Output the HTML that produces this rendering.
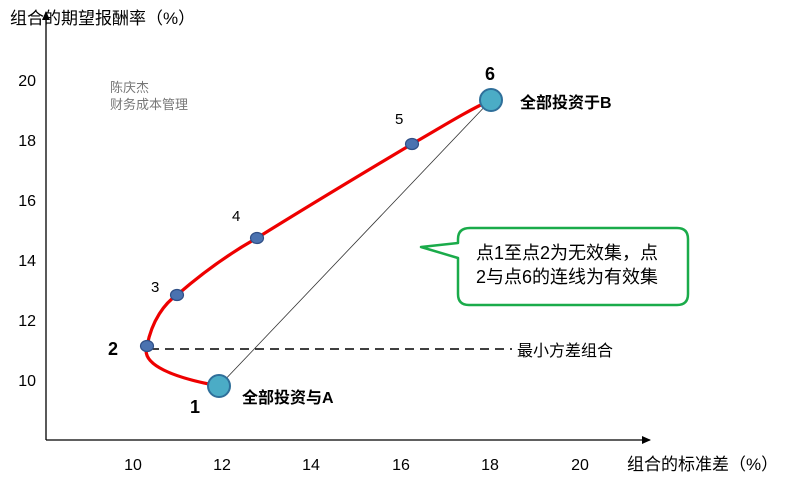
<!DOCTYPE html><html><head><meta charset="utf-8"><style>body{margin:0;background:#fff}svg{display:block}text{font-family:"Liberation Sans","Noto Sans CJK SC",sans-serif}</style></head><body>
<svg width="796" height="493" viewBox="0 0 796 493">
<defs><marker id="ar" markerWidth="10" markerHeight="10" refX="8" refY="5" orient="auto" markerUnits="userSpaceOnUse"><path d="M0,1 L9,5 L0,9 Z" fill="#000"/></marker></defs>
<line x1="46" y1="440" x2="46" y2="12" stroke="#000" stroke-width="1.3" marker-end="url(#ar)"/>
<line x1="46" y1="440" x2="650" y2="440" stroke="#000" stroke-width="1.3" marker-end="url(#ar)"/>
<g font-size="16" fill="#000" text-anchor="end">
<text x="36" y="86">20</text><text x="36" y="146">18</text><text x="36" y="206">16</text><text x="36" y="266">14</text><text x="36" y="326">12</text><text x="36" y="386">10</text></g>
<g font-size="16" fill="#000" text-anchor="middle">
<text x="133" y="470">10</text><text x="222" y="470">12</text><text x="311" y="470">14</text><text x="401" y="470">16</text><text x="490" y="470">18</text><text x="580" y="470">20</text></g>
<text x="10" y="24" font-size="17">组合的期望报酬率（%）</text>
<text x="627" y="470" font-size="17">组合的标准差（%）</text>
<text x="110" y="92" font-size="13" fill="#777">陈庆杰</text>
<text x="110" y="109" font-size="13" fill="#777">财务成本管理</text>
<line x1="219" y1="386" x2="491" y2="100" stroke="#333" stroke-width="0.8"/>
<line x1="150" y1="349" x2="512" y2="349" stroke="#000" stroke-width="1.5" stroke-dasharray="9,6"/>
<path d="M219,386 C175,378 140,365 147,346 C152,320 165,303 177,295 C200,275 225,256 257,238 C310,205 360,175 412,144 C440,128 465,112 491,100" fill="none" stroke="#e00" stroke-width="3.2"/>
<g fill="#4a72b0" stroke="#2f4f86" stroke-width="1.2">
<ellipse cx="147" cy="346" rx="6.5" ry="5.5"/><ellipse cx="177" cy="295" rx="6.5" ry="5.5"/><ellipse cx="257" cy="238" rx="6.5" ry="5.5"/><ellipse cx="412" cy="144" rx="6.5" ry="5.5"/></g>
<g fill="#4bacc6" stroke="#2f6f9a" stroke-width="2">
<circle cx="219" cy="386" r="11"/><circle cx="491" cy="100" r="11"/></g>
<g font-size="15" fill="#000"><text x="151" y="292">3</text><text x="232" y="221">4</text><text x="395" y="124">5</text></g>
<g font-size="18" font-weight="bold" fill="#000"><text x="108" y="355">2</text><text x="190" y="413">1</text><text x="485" y="80">6</text></g>
<g font-size="16" font-weight="bold" fill="#000"><text x="242" y="403">全部投资与A</text><text x="520" y="108">全部投资于B</text></g>
<text x="517" y="356" font-size="16" fill="#000">最小方差组合</text>
<path d="M470,228 H677 Q688,228 688,239 V294 Q688,305 677,305 H469 Q458,305 458,294 V258 L421,247 L458,243 V239 Q458,228 470,228 Z" fill="#fff" stroke="#1aab4a" stroke-width="2.5" stroke-linejoin="round"/>
<text x="476" y="259" font-size="18" fill="#000">点1至点2为无效集，点</text>
<text x="476" y="283" font-size="18" fill="#000">2与点6的连线为有效集</text>
</svg></body></html>
